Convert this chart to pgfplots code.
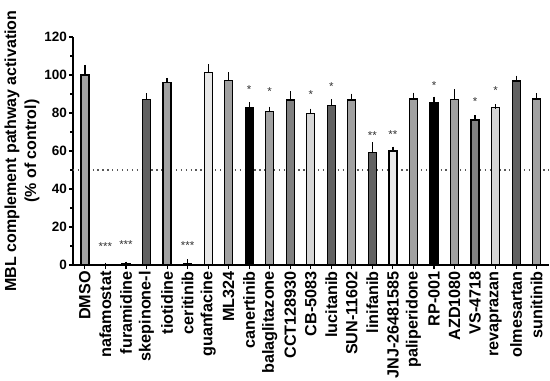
\documentclass[border=0pt]{standalone}
\usepackage{pgfplots}
\pgfplotsset{compat=1.18}
\usepackage{fontspec}
\setmainfont{Liberation Sans}
\definecolor{gA}{gray}{0.63}
\definecolor{gD}{gray}{0.38}
\definecolor{gM}{gray}{0.50}
\definecolor{gL}{gray}{0.91}
\definecolor{gK}{gray}{0.84}
\pgfplotsset{
  mybar/.style={ybar, bar width=8bp, bar shift=0pt, draw=black, line width=1.2bp, fill=#1,
    error bars/.cd, y dir=plus, y explicit,
    error bar style={line width=1.2bp, black},
    error mark options={mark size=2.5bp, line width=1.2bp, black}},
}
\begin{document}
\begin{tikzpicture}
\begin{axis}[name=ax, scale only axis, width=476bp, height=228bp,
  xmin=-0.58, xmax=22.6, ymin=0, ymax=120, clip=false,
  axis x line=bottom, axis y line=left,
  axis line style={-, line width=1.3bp, black},
  ytick={0,20,...,120}, minor y tick num=1,
  xtick={0,...,22},
  xticklabels={DMSO,nafamostat,furamidine,skepinone-l,tiotidine,ceritinib,guanfacine,ML324,canertinib,balaglitazone,CCT128930,CB-5083,lucitanib,SUN-11602,linifanib,JNJ-26481585,paliperidone,RP-001,AZD1080,VS-4718,revaprazan,olmesartan,sunitinib},
  tick align=outside, major tick length=4bp, minor tick length=2.5bp,
  every tick/.style={black, line width=1.1bp},
  /pgf/number format/assume math mode=true,
  yticklabel style={font=\bfseries\fontsize{13.5bp}{15bp}\selectfont, inner sep=2bp},
  xticklabel style={rotate=90, anchor=east, font=\bfseries\fontsize{16.2bp}{18bp}\selectfont, inner sep=2bp},
  ylabel={MBL complement pathway activation\\(\% of control)},
  ylabel style={at={(axis description cs:-0.107,0.5)}, anchor=center, align=center,
    font=\bfseries\fontsize{16bp}{20bp}\selectfont},
]
\addplot[sharp plot, line width=1.3bp, color=black!65, dash pattern=on 1.3bp off 3.6bp, forget plot] coordinates {(-0.58,50) (22.6,50)};
\addplot[mybar=gA] coordinates {(0,100) +- (0,4)};
\addplot[mybar=gD] coordinates {(1,0) +- (0,0)};
\addplot[mybar=gD] coordinates {(2,0.5) +- (0,0)};
\addplot[mybar=gD] coordinates {(3,87.2) +- (0,1.8)};
\addplot[mybar=gA] coordinates {(4,96) +- (0,1.2)};
\addplot[mybar=gD] coordinates {(5,1) +- (0,0.6)};
\addplot[mybar=gL] coordinates {(6,101.2) +- (0,3.2)};
\addplot[mybar=gA] coordinates {(7,97.2) +- (0,2.8)};
\addplot[mybar=black] coordinates {(8,82.8) +- (0,1.5)};
\addplot[mybar=gA] coordinates {(9,81) +- (0,1)};
\addplot[mybar=gM] coordinates {(10,86.8) +- (0,3.4)};
\addplot[mybar=gK] coordinates {(11,79.6) +- (0,1.4)};
\addplot[mybar=gD] coordinates {(12,84) +- (0,1.8)};
\addplot[mybar=gA] coordinates {(13,86.8) +- (0,2.1)};
\addplot[mybar=gD] coordinates {(14,59.3) +- (0,4)};
\addplot[mybar=gL] coordinates {(15,60) +- (0,1)};
\addplot[mybar=gA] coordinates {(16,87.4) +- (0,2)};
\addplot[mybar=black] coordinates {(17,85.3) +- (0,2)};
\addplot[mybar=gA] coordinates {(18,87) +- (0,4.3)};
\addplot[mybar=gM] coordinates {(19,76.3) +- (0,1.1)};
\addplot[mybar=gK] coordinates {(20,82.8) +- (0,0.5)};
\addplot[mybar=gD] coordinates {(21,96.8) +- (0,1.5)};
\addplot[mybar=gA] coordinates {(22,87.4) +- (0,1.6)};
\addplot[only marks, mark=none, nodes near coords, point meta=explicit symbolic,
  nodes near coords style={anchor=base, yshift=-6.6bp, inner sep=0pt, font=\fontsize{11.5bp}{12bp}\selectfont, black!80}]
  coordinates {(1,11.3)[***] (2,12.2)[***] (5,11.6)[***] (8,93.8)[*] (9,92.6)[*] (11,90.9)[*] (12,95.1)[*]
  (14,69.6)[**] (15,70)[**] (17,96.1)[*] (19,87.4)[*] (20,93.3)[*]};
\end{axis}
\pgfresetboundingbox
\path (ax.south west) ++(-73bp,-116bp) rectangle ++(550bp,381bp);
\end{tikzpicture}
\end{document}
